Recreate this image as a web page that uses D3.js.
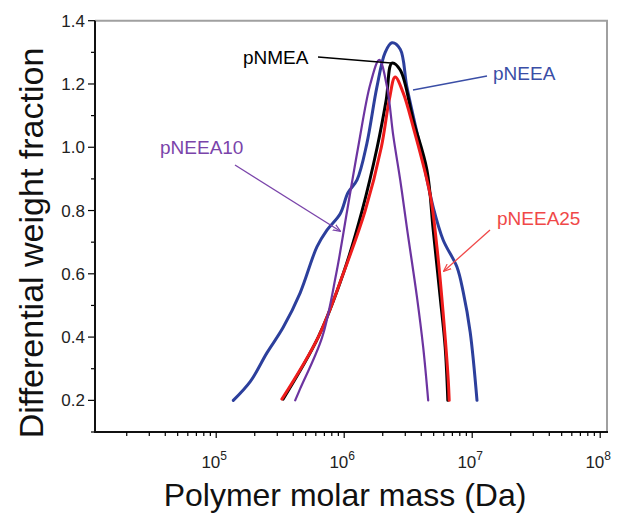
<!DOCTYPE html>
<html>
<head>
<meta charset="utf-8">
<script src="https://cdn.jsdelivr.net/npm/d3@7.9.0/dist/d3.min.js"></script>
<style>
  body { margin: 0; background: #fff; }
  svg { display: block; font-family: "Liberation Sans", Arial, sans-serif; }
</style>
</head>
<body>
<svg id="chart" width="618" height="515"></svg>
<script>
// molar mass (Da) and differential weight fraction
const neeaMass = [1.36e5, 1.85e5, 2.49e5, 3.33e5, 4.53e5, 6.12e5, 7.33e5, 9.31e5, 1.07e6, 1.26e6, 1.50e6, 1.80e6, 2.09e6, 2.36e6, 2.74e6, 3.09e6, 3.93e6, 4.96e6, 5.93e6, 7.59e6, 8.51e6, 9.64e6, 1.09e7];
const neeaFrac = [0.20, 0.26, 0.35, 0.43, 0.54, 0.685, 0.738, 0.79, 0.856, 0.897, 1.01, 1.19, 1.30, 1.33, 1.31, 1.19, 1.00, 0.81, 0.707, 0.622, 0.542, 0.416, 0.20];

const nmeaMass = [3.33e5, 6.27e5, 9.82e5, 1.38e6, 1.81e6, 2.13e6, 2.36e6, 2.74e6, 3.46e6, 4.43e6, 4.96e6, 5.62e6, 6.15e6, 6.45e6];
const nmeaFrac = [0.204, 0.40, 0.60, 0.80, 1.00, 1.15, 1.266, 1.244, 1.086, 0.928, 0.738, 0.526, 0.368, 0.20];

const neea25Mass = [3.26e5, 6.27e5, 9.82e5, 1.46e6, 1.95e6, 2.25e6, 2.50e6, 2.89e6, 3.46e6, 4.70e6, 5.30e6, 5.93e6, 6.50e6, 6.61e6];
const neea25Frac = [0.204, 0.40, 0.60, 0.80, 1.00, 1.15, 1.222, 1.172, 1.064, 0.849, 0.685, 0.476, 0.264, 0.20];

const neea10Mass = [4.14e5, 4.53e5, 6.73e5, 8.66e5, 1.055e6, 1.285e6, 1.60e6, 1.88e6, 2.16e6, 2.42e6, 2.74e6, 3.09e6, 3.70e6, 4.14e6, 4.53e6];
const neea10Frac = [0.20, 0.237, 0.40, 0.60, 0.80, 1.00, 1.20, 1.276, 1.191, 1.035, 0.896, 0.745, 0.527, 0.368, 0.20];

const yTicks = [0.2, 0.4, 0.6, 0.8, 1.0, 1.2, 1.4];
const xTicks = [1e5, 1e6, 1e7, 1e8];
const xTickExp = ["5", "6", "7", "8"];

const svg = d3.select('#chart');

const x = d3.scaleLog().domain([1.13e4, 1.13e8]).range([95, 607]);
const y = d3.scaleLinear().domain([0.1, 1.4]).range([432, 20.7]);

// frame: top and right grey
svg.append('path')
  .attr('d', `M${x.range()[0]},${y(1.4)}H${x.range()[1]}V${y(0.1)}`)
  .attr('fill', 'none').attr('stroke', '#a0a0a0').attr('stroke-width', 2);

// curves
const line = d3.line()
  .x(d => x(d[0]))
  .y(d => y(d[1]))
  .curve(d3.curveCatmullRom.alpha(0.5));

const series = [
  { mass: neeaMass, frac: neeaFrac, color: '#2c3f9c', w: 3 },
  { mass: nmeaMass, frac: nmeaFrac, color: '#000000', w: 3 },
  { mass: neea25Mass, frac: neea25Frac, color: '#ee1c1c', w: 3 },
  { mass: neea10Mass, frac: neea10Frac, color: '#6c34a0', w: 2.2 }
];

svg.selectAll('path.curve')
  .data(series)
  .enter()
  .append('path')
    .attr('class', 'curve')
    .attr('d', d => line(d.mass.map((m, i) => [m, d.frac[i]])))
    .attr('fill', 'none')
    .attr('stroke', d => d.color)
    .attr('stroke-width', d => d.w)
    .attr('stroke-linejoin', 'round')
    .attr('stroke-linecap', 'round');

// y axis
const yMinor = d3.range(0.1, 1.41, 0.1).map(v => +v.toFixed(1));
const yAxis = svg.append('g').attr('transform', `translate(${x.range()[0]},0)`);
yAxis.selectAll('line.minor')
  .data(yMinor.filter(v => !yTicks.includes(v)))
  .enter().append('line')
    .attr('x1', 0).attr('x2', -4)
    .attr('y1', d => y(d)).attr('y2', d => y(d))
    .attr('stroke', '#000').attr('stroke-width', 1.2);
yAxis.selectAll('line.major')
  .data(yTicks)
  .enter().append('line')
    .attr('x1', 0).attr('x2', -7)
    .attr('y1', d => y(d)).attr('y2', d => y(d))
    .attr('stroke', '#000').attr('stroke-width', 1.2);
yAxis.selectAll('text')
  .data(yTicks)
  .enter().append('text')
    .attr('x', -10).attr('y', d => y(d)).attr('dy', '0.36em')
    .attr('text-anchor', 'end').attr('font-size', 17).attr('fill', '#222')
    .text(d => d.toFixed(1));
yAxis.append('line')
  .attr('x1', 0).attr('x2', 0).attr('y1', y(1.4)).attr('y2', y(0.1) + 1)
  .attr('stroke', '#111').attr('stroke-width', 2);

// x axis
const xMinor = [];
[1e4, 1e5, 1e6, 1e7].forEach(dec => {
  for (let k = 2; k <= 9; k++) if (dec * k > x.domain()[0]) xMinor.push(dec * k);
});
const xAxis = svg.append('g').attr('transform', `translate(0,${y(0.1)})`);
xAxis.append('line')
  .attr('x1', x.range()[0] - 1).attr('x2', x.range()[1] + 1)
  .attr('stroke', '#111').attr('stroke-width', 2);
xAxis.selectAll('line.minor')
  .data(xMinor)
  .enter().append('line')
    .attr('x1', d => x(d)).attr('x2', d => x(d))
    .attr('y1', 0).attr('y2', 4)
    .attr('stroke', '#000').attr('stroke-width', 1.2);
xAxis.selectAll('line.major')
  .data(xTicks)
  .enter().append('line')
    .attr('x1', d => x(d)).attr('x2', d => x(d))
    .attr('y1', 0).attr('y2', 6)
    .attr('stroke', '#000').attr('stroke-width', 1.2);
const xl = xAxis.selectAll('text')
  .data(xTicks)
  .enter().append('text')
    .attr('x', d => x(d) - 2).attr('y', 36)
    .attr('text-anchor', 'middle').attr('font-size', 17).attr('fill', '#222');
xl.append('tspan').text('10');
xl.append('tspan').attr('dy', -8).attr('font-size', 12).text((d, i) => xTickExp[i]);

// axis titles
svg.append('text')
  .attr('x', 345).attr('y', 506)
  .attr('text-anchor', 'middle').attr('font-size', 32).attr('fill', '#111')
  .text('Polymer molar mass (Da)');
svg.append('text')
  .attr('transform', 'translate(43,243) rotate(-90)')
  .attr('text-anchor', 'middle').attr('font-size', 34).attr('fill', '#111')
  .text('Differential weight fraction');

// annotations
const defs = svg.append('defs');
[['arrPurple', '#7a44aa'], ['arrRed', '#f04848']].forEach(([id, c]) => {
  defs.append('marker').attr('id', id)
    .attr('viewBox', '0 0 10 10').attr('refX', 9).attr('refY', 5)
    .attr('markerWidth', 6).attr('markerHeight', 6).attr('orient', 'auto')
    .append('path').attr('d', 'M0,1L10,5L0,9').attr('fill', 'none')
    .attr('stroke', c).attr('stroke-width', 1.5);
});

const notes = [
  { text: 'pNMEA', tx: 243, ty: 57, color: '#000', line: [318, 57, 391, 63], marker: null },
  { text: 'pNEEA', tx: 493, ty: 73, color: '#3a4ea6', line: [487, 76, 413, 90], marker: null },
  { text: 'pNEEA10', tx: 160, ty: 147, color: '#7a44aa', line: [235, 165, 340, 231], marker: 'arrPurple' },
  { text: 'pNEEA25', tx: 497, ty: 218, color: '#f04848', line: [490, 230, 444, 271], marker: 'arrRed' }
];
notes.forEach(n => {
  svg.append('line')
    .attr('x1', n.line[0]).attr('y1', n.line[1]).attr('x2', n.line[2]).attr('y2', n.line[3])
    .attr('stroke', n.color).attr('stroke-width', 1.3)
    .attr('marker-end', n.marker ? `url(#${n.marker})` : null);
  svg.append('text')
    .attr('x', n.tx).attr('y', n.ty).attr('dy', '0.36em')
    .attr('font-size', 19).attr('fill', n.color)
    .text(n.text);
});
</script>
</body>
</html>
